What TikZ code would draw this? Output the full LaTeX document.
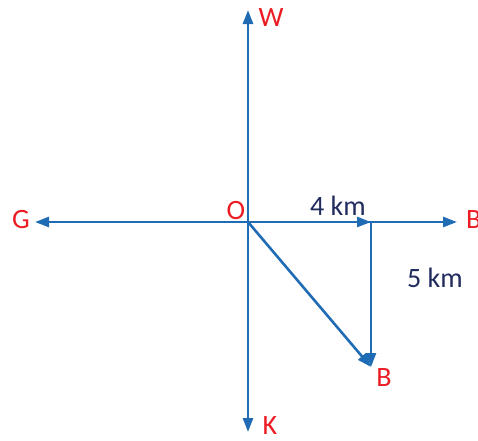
\documentclass[tikz,border=0pt]{standalone}
\usepackage{fontspec}
\setmainfont{Carlito}
\usepackage{xcolor}
\usetikzlibrary{arrows.meta}
\definecolor{bluemain}{HTML}{1F6CB5}
\definecolor{redlabel}{HTML}{EC1C24}
\definecolor{navytext}{HTML}{202B5E}
\tikzset{every node/.append style={font=\fontsize{28}{32}\selectfont}}
\tikzset{vec/.style={-{Triangle[length=14pt,width=10pt]},bluemain,line width=2.6pt}}
\tikzset{pt/.style={text=redlabel,inner sep=0pt}}
\begin{document}
\begin{tikzpicture}[x=1pt,y=-1pt]
\useasboundingbox (0,0) rectangle (478,440);
\coordinate (O) at (248,222); \coordinate (N) at (248,10); \coordinate (S) at (248,432);
\coordinate (E) at (457,222); \coordinate (Wst) at (35,222);
\coordinate (P) at (371,222); \coordinate (Q) at (371,367);
\draw[vec] (O)--(N); \draw[vec] (O)--(S);
\draw[vec] (O)--(E); \draw[vec] (O)--(Wst);
\draw[vec] (O)--(P);
\draw[vec] (P)--(Q);
\draw[vec] (O)--(Q);
\node[pt] (wl) at (271,18) {W};
\node[pt] (gl) at (21,220) {G};
\node[pt,anchor=west] (bl) at (466,220) {B};
\node[pt] (kl) at (270,426) {K};
\node[pt] (ol) at (236,211) {O};
\node[pt] (bb) at (384,378) {B};
\node[text=navytext] (d1) at (338,206) {4 km};
\node[text=navytext] (d2) at (435,278) {5 km};
\end{tikzpicture}
\end{document}
